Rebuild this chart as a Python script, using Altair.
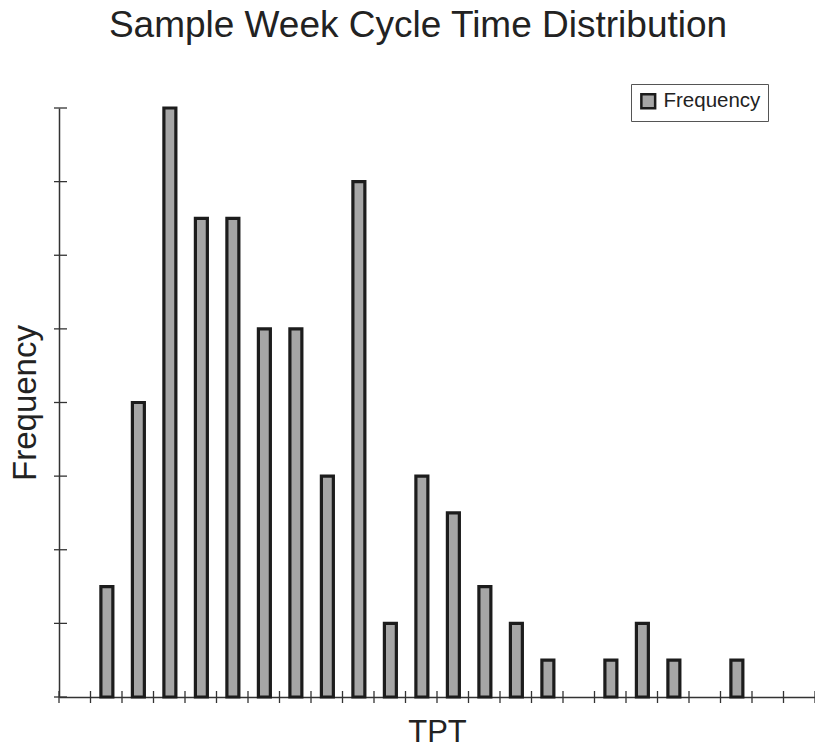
import altair as alt
import pandas as pd

# ---- data ----
tpt_bins = list(range(1, 25))          # TPT class index (band i spans [i-1, i])
frequency = [0, 3, 8, 16, 13, 13, 10, 10, 6, 14, 2, 6, 5, 3, 2, 1, 0, 1, 2, 1, 0, 1, 0, 0]
y_tick_values = [0, 2, 4, 6, 8, 10, 12, 14, 16]
x_tick_values = list(range(0, 25))
series_name = ["Frequency"]

W, H = 756, 589
FONT = "Liberation Sans"
INK = "#222222"

df = pd.DataFrame({"bin": tpt_bins, "freq": frequency})
df = df[df["freq"] > 0].copy()
df["series"] = series_name[0]

x_scale = alt.Scale(domain=[0, 24], nice=False, zero=False)
y_scale = alt.Scale(domain=[0, 16], nice=False)

bars = (
    alt.Chart(df)
    .transform_calculate(x0="datum.bin - 0.67", x1="datum.bin - 0.29", base="0")
    .mark_bar(stroke="#1c1c1c", strokeWidth=3.2, opacity=1)
    .encode(
        x=alt.X(
            "x0:Q",
            scale=x_scale,
            axis=alt.Axis(
                title="TPT", labels=False, ticks=False, grid=False,
                domainColor="#333333", domainWidth=1.5,
                titleFontSize=31, titleFont=FONT, titleFontWeight="normal",
                titleColor=INK, titlePadding=20,
            ),
        ),
        x2="x1:Q",
        y=alt.Y(
            "freq:Q",
            scale=y_scale,
            axis=alt.Axis(
                title="Frequency", labels=False, ticks=False, grid=False,
                domainColor="#333333", domainWidth=1.5,
                titleFontSize=33, titleFont=FONT, titleFontWeight="normal",
                titleColor=INK, titlePadding=17,
            ),
        ),
        y2="base:Q",
        color=alt.Color(
            "series:N",
            scale=alt.Scale(domain=series_name, range=["#a6a6a6"]),
            legend=alt.Legend(
                title=None, orient="none", legendX=572, legendY=-24,
                strokeColor="#555555", padding=7,
                symbolType="square", symbolSize=190,
                symbolStrokeColor="#1c1c1c", symbolStrokeWidth=2.5,
                symbolOpacity=1,
                labelFont=FONT, labelFontSize=20.5, labelColor=INK, labelOffset=5,
            ),
        ),
    )
)

y_ticks = (
    alt.Chart(pd.DataFrame({"v": y_tick_values}))
    .mark_rule(color="#333333", strokeWidth=1.3)
    .encode(y=alt.Y("v:Q", scale=y_scale), x=alt.value(-5), x2=alt.value(8))
)

x_ticks = (
    alt.Chart(pd.DataFrame({"t": x_tick_values}))
    .mark_rule(color="#333333", strokeWidth=1.3)
    .encode(x=alt.X("t:Q", scale=x_scale), y=alt.value(H - 6), y2=alt.value(H + 6))
)

chart = (
    alt.layer(bars, y_ticks, x_ticks)
    .properties(
        width=W,
        height=H,
        background="white",
        autosize=alt.AutoSizeParams(type="none"),
        padding={"left": 59, "top": 108, "right": 0, "bottom": 50},
        title=alt.TitleParams(
            "Sample Week Cycle Time Distribution",
            font=FONT, fontSize=37, fontWeight="normal", color=INK,
            anchor="middle", baseline="bottom", offset=38, dy=36, dx=-19,
        ),
    )
    .configure_view(stroke="transparent", strokeWidth=0)
)

chart.save("out.html", embed_options={"renderer": "svg", "actions": False})
